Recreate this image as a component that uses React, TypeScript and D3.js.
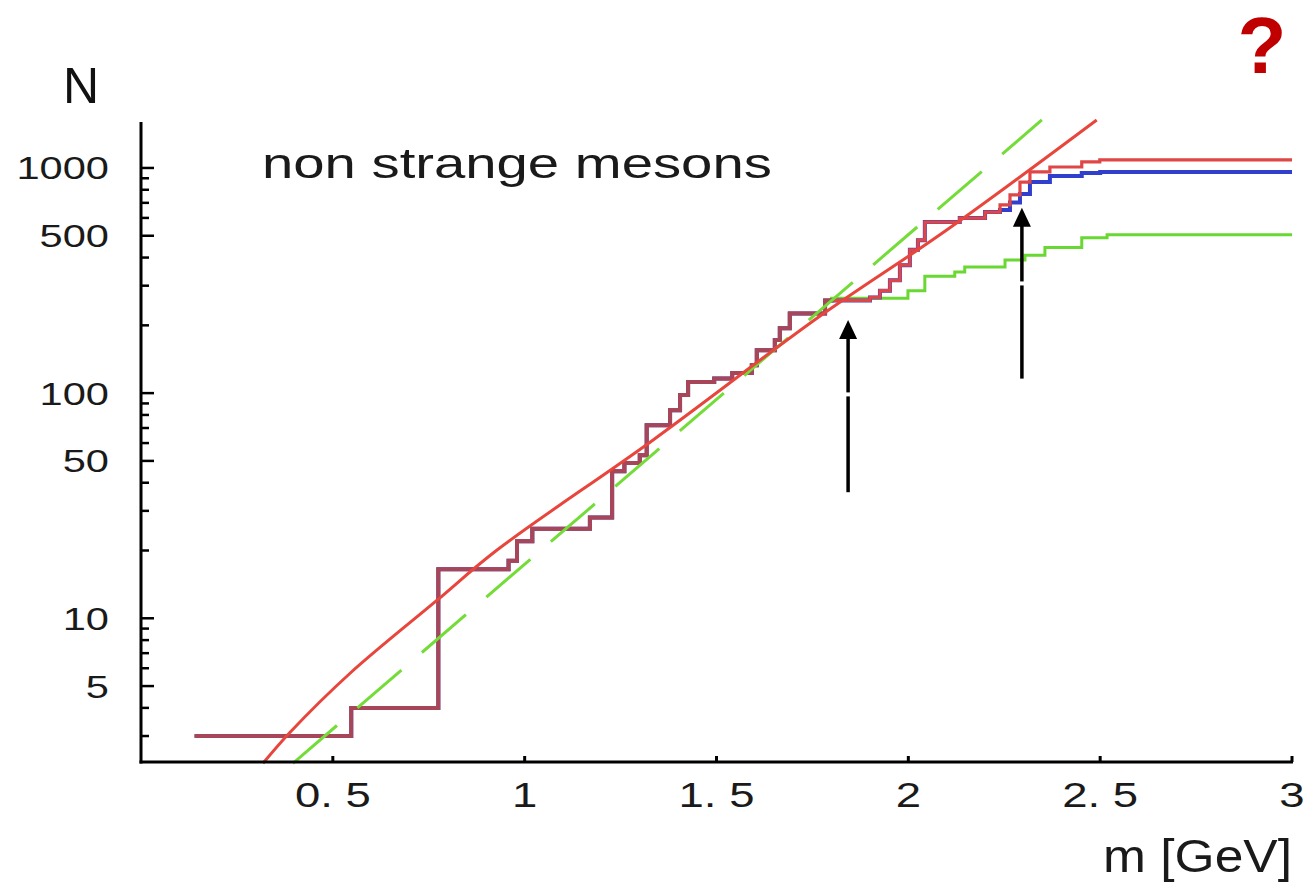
import React from "react";
import * as d3 from "d3";

const W = 1306;
const H = 882;

// cumulative number of states N(m) – part shared by all three spectra
const commonSteps: [number, number][] = [
  [0.14, 3], [0.548, 4], [0.775, 16.5], [0.958, 18], [0.98, 22], [1.02, 25],
  [1.17, 28], [1.228, 45], [1.26, 49], [1.3, 53], [1.318, 72], [1.379, 84],
  [1.405, 98], [1.426, 112], [1.494, 116], [1.541, 123], [1.592, 133],
  [1.605, 155], [1.652, 172], [1.665, 194], [1.691, 226], [1.783, 258],
];
// green spectrum beyond 1.8 GeV
const greenTail: [number, number][] = [
  [1.8, 264], [1.999, 285], [2.043, 330], [2.121, 345], [2.147, 363],
  [2.252, 390], [2.304, 410], [2.356, 443], [2.452, 490], [2.518, 505], [3.0, 505],
];
// red and blue agree up to 2.2 GeV
const sharedUpper: [number, number][] = [
  [1.9, 266], [1.926, 285], [1.952, 317], [1.978, 370], [2.004, 433],
  [2.025, 478], [2.043, 575], [2.134, 599], [2.2, 637],
];
const redTail: [number, number][] = [
  [2.239, 685], [2.265, 759], [2.291, 866], [2.317, 960], [2.369, 1010],
  [2.452, 1065], [2.499, 1086], [3.0, 1086],
];
const blueTail: [number, number][] = [
  [2.239, 651], [2.265, 702], [2.291, 766], [2.317, 866], [2.369, 920],
  [2.452, 950], [2.5, 960], [3.0, 960],
];

// fits
const fitCurve: [number, number][] = [
  [0.318, 2.27], [0.388, 3.11], [0.545, 5.7], [0.771, 12.0], [0.928, 20.1],
  [1.334, 61.8], [1.77, 220], [2.1, 530], [2.491, 1634],
];
const fitExp: [number, number][] = [[0.396, 2.27], [2.348, 1634]];

// arrows (mass, tail N, tip N, N where the shaft has a small break)
const arrows = [
  { m: 1.843, from: 36.3, to: 211, gap: 98.7 },
  { m: 2.296, from: 116, to: 666, gap: 307 },
];

const xTicks = [0.5, 1, 1.5, 2, 2.5, 3];
const xLabels = ["0. 5", "1", "1. 5", "2", "2. 5", "3"];
const yLabelled = [5, 10, 50, 100, 500, 1000];

const FONT = "'Liberation Sans', Arial, Helvetica, sans-serif";

export default function App() {
  const x = d3.scaleLinear().domain([0, 3]).range([141, 1292]);
  const y = d3.scaleLog().domain([2.3, 1600]).range([762, 122]);

  const step = d3
    .line<[number, number]>()
    .x((d) => x(d[0]))
    .y((d) => y(d[1]))
    .curve(d3.curveStepAfter);
  const smooth = d3
    .line<[number, number]>()
    .x((d) => x(d[0]))
    .y((d) => y(d[1]))
    .curve(d3.curveCatmullRom);
  const straight = d3
    .line<[number, number]>()
    .x((d) => x(d[0]))
    .y((d) => y(d[1]));

  const green = [...commonSteps, ...greenTail];
  const blue = [...commonSteps, ...sharedUpper, ...blueTail];
  const red = [...commonSteps, ...sharedUpper, ...redTail];
  // where all spectra overlap the lines blend into one dark stroke
  const overlap = [...commonSteps, greenTail[0]];

  const yTicks = y.ticks().filter((t) => t >= 3 && t <= 1000);

  return (
    <svg
      width={W}
      height={H}
      style={{ position: "absolute", left: 0, top: 0, background: "#fff" }}
    >
      <rect width={W} height={H} fill="#fff" />

      {/* step spectra */}
      <path d={step(green) || ""} fill="none" stroke="#6ad832" strokeWidth={3} />
      <path d={step(blue) || ""} fill="none" stroke="#3040cc" strokeWidth={4} />
      <path d={step(red) || ""} fill="none" stroke="#e04646" strokeWidth={3.2} />
      <path d={step(overlap) || ""} fill="none" stroke="#a64658" strokeWidth={4} />

      {/* fits */}
      <path
        d={straight(fitExp) || ""}
        fill="none"
        stroke="#74dc38"
        strokeWidth={3}
        strokeDasharray="58 27"
      />
      <path d={smooth(fitCurve) || ""} fill="none" stroke="#e8453c" strokeWidth={3} />

      {/* arrows */}
      {arrows.map((a, i) => {
        const ax = x(a.m);
        const tip = y(a.to);
        return (
          <g key={i}>
            <line x1={ax} x2={ax} y1={y(a.from)} y2={y(a.gap) + 2} stroke="#000" strokeWidth={3.5} />
            <line x1={ax} x2={ax} y1={y(a.gap) - 2} y2={tip + 14} stroke="#000" strokeWidth={3.5} />
            <path d={`M${ax},${tip} L${ax - 9},${tip + 19} L${ax + 9},${tip + 19} Z`} fill="#000" />
          </g>
        );
      })}

      {/* axes */}
      <line x1={141} x2={141} y1={122} y2={763.5} stroke="#000" strokeWidth={3} />
      <line x1={139.5} x2={1293} y1={762} y2={762} stroke="#000" strokeWidth={3} />

      {yTicks.map((t) => {
        const major = yLabelled.includes(t);
        return (
          <line
            key={t}
            x1={141}
            x2={141 + (major ? 13 : 8)}
            y1={y(t)}
            y2={y(t)}
            stroke="#000"
            strokeWidth={2.5}
          />
        );
      })}
      {yLabelled.map((t) => (
        <text
          key={t}
          transform={`translate(109,${y(t)}) scale(1.3,1)`}
          textAnchor="end"
          dy="0.36em"
          fontFamily={FONT}
          fontSize={32}
          fill="#1a1a1a"
        >
          {t}
        </text>
      ))}

      {xTicks.map((t, i) => (
        <g key={t}>
          <line x1={x(t)} x2={x(t)} y1={762} y2={756} stroke="#000" strokeWidth={3} />
          <text
            transform={`translate(${x(t)},807) scale(1.3,1)`}
            textAnchor="middle"
            fontFamily={FONT}
            fontSize={35}
            fill="#1a1a1a"
          >
            {xLabels[i]}
          </text>
        </g>
      ))}

      {/* labels */}
      <text x={63} y={103} fontFamily={FONT} fontSize={50} fill="#111">
        N
      </text>
      <text
        transform="translate(1292,872) scale(1.12,1)"
        textAnchor="end"
        fontFamily={FONT}
        fontSize={46}
        fill="#1a1a1a"
      >
        m [GeV]
      </text>
      <text
        transform="translate(262,178) scale(1.34,1)"
        fontFamily={FONT}
        fontSize={42}
        fill="#1a1a1a"
      >
        non strange mesons
      </text>
      <text
        x={1262}
        y={73}
        textAnchor="middle"
        fontFamily={FONT}
        fontSize={80}
        fontWeight="bold"
        fill="#c00000"
      >
        ?
      </text>
    </svg>
  );
}
